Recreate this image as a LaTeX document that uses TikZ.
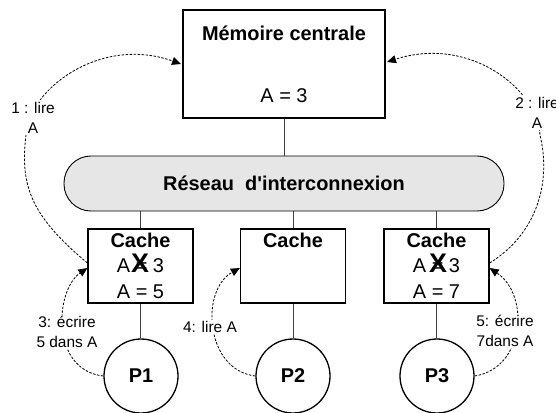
\documentclass[tikz,border=0pt]{standalone}
\usepackage{fontspec}
\defaultfontfeatures[\rmfamily,\sffamily]{}
\setmainfont{Liberation Sans}
\usetikzlibrary{arrows.meta,calc}
\definecolor{busfill}{HTML}{E6E6E6}
\begin{document}
\begin{tikzpicture}[x=1bp,y=-1bp,
  big/.style={font=\fontsize{20}{24}\selectfont, inner sep=0},
  bigb/.style={font=\fontsize{20}{24}\selectfont\bfseries, inner sep=0},
  crossx/.style={font=\fontsize{27}{30}\selectfont\bfseries, inner sep=0},
  lbl/.style={font=\fontsize{15.5}{20}\selectfont, align=center, fill=white, inner sep=1.5bp},
  memstyle/.style={draw, line width=2bp, minimum width=202bp, minimum height=108bp, inner sep=0},
  netstyle/.style={draw, line width=0.9bp, fill=busfill, rounded corners=27bp,
    minimum width=440bp, minimum height=55bp, inner sep=0,
    font=\fontsize{20}{24}\selectfont\bfseries},
  cachebox/.style={draw, line width=1.2bp, minimum width=105bp, minimum height=74bp, inner sep=0},
  proc/.style={draw, circle, line width=1.3bp, minimum size=74bp, inner sep=0,
    font=\fontsize{20}{24}\selectfont\bfseries},
  wire/.style={line width=0.9bp, draw=black!75},
  msg/.style={dash pattern=on 2.5bp off 1.5bp, line width=0.8bp,
    -{Triangle[length=9bp,width=8bp]}},
]
\useasboundingbox (0,0) rectangle (556,412);

% main memory
\node[memstyle] (mem) at (284,64) {};
\node[bigb, anchor=base] (memtitle) at (284,40) {Mémoire centrale};
\node[big, anchor=base] (memval) at (284,102) {A = 3};

% interconnection network
\node[netstyle] (net) at (284,183.5) {Réseau\ \ d'interconnexion};

% caches
\node[cachebox] (c1) at (140.5,266) {};
\node[cachebox] (c2) at (293,266) {};
\node[cachebox] (c3) at (436.5,266) {};

\node[bigb, anchor=base] (c1t) at (c1.center |- 0,247) {Cache};
\node[bigb, anchor=base] (c2t) at (c2.center |- 0,247) {Cache};
\node[bigb, anchor=base] (c3t) at (c3.center |- 0,247) {Cache};

% old value crossed out, new value below
\node[big, anchor=base] (c1old) at (c1.center |- 0,272) {A = 3};
\node[crossx] (c1x) at (140,263) {X};
\node[big, anchor=base] (c1new) at (c1.center |- 0,298) {A = 5};

\node[big, anchor=base] (c3old) at (c3.center |- 0,272) {A = 3};
\node[crossx] (c3x) at (438,263) {X};
\node[big, anchor=base] (c3new) at (c3.center |- 0,298) {A = 7};

% processors
\node[proc] (p1) at (141,376) {P1};
\node[proc] (p2) at (293,376) {P2};
\node[proc] (p3) at (437,376) {P3};

% wiring
\draw[wire] (mem.south) -- (net.north);
\foreach \c/\p in {c1/p1, c2/p2, c3/p3}{
  \draw[wire] (net.south -| \c.north) -- (\c.north);
  \draw[wire] (\c.south) -- (\p.north -| \c.south);
}

% coherence messages
\draw[msg] ($(c1.west)+(0,-3)$) .. controls (30,215) and (20,185) .. (26,135)
           .. controls (28,90) and (100,35) .. ($(mem.west)+(-1,0)$);
\draw[msg] ($(c3.east)+(0,-3)$) .. controls (535,235) and (552,185) .. (540,135)
           .. controls (538,90) and (470,35) .. ($(mem.east)+(1,-2)$);
\draw[msg] (p1.west) .. controls (50,370) and (55,290) .. ($(c1.west)+(0,2)$);
\draw[msg] (p2.west) .. controls (205,370) and (200,290) .. ($(c2.west)+(0,2)$);
\draw[msg] (p3.east) .. controls (525,368) and (530,295) .. ($(c3.east)+(0,2)$);

% message labels
\node[lbl] (m1) at (33,117.5) {1 : lire\\A};
\node[lbl] (m2) at (537,113) {2 : lire\\A};
\node[lbl] (m3) at (67,332) {3: écrire\\5 dans A};
\node[lbl] (m4) at (210,327) {4: lire A};
\node[lbl] (m5) at (505,331) {5: écrire\\7dans A};
\end{tikzpicture}
\end{document}
